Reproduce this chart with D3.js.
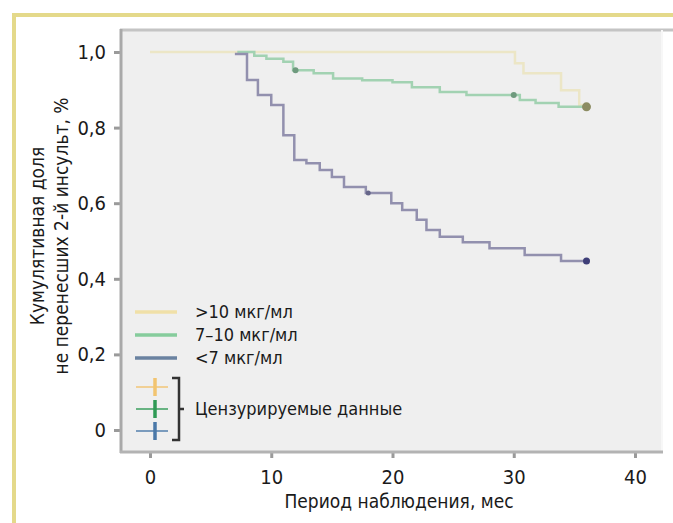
<!DOCTYPE html>
<html>
<head>
<meta charset="utf-8">
<script src="https://cdn.jsdelivr.net/npm/d3@7"></script>
<style>
  body { margin: 0; background: #fff; }
  text { font-family: "DejaVu Sans Condensed", "Liberation Sans Narrow", sans-serif; font-stretch: condensed; fill: #1a1a1a; }
</style>
</head>
<body>
<svg id="svg1" width="673" height="523"></svg>
<script>
// ---- data (months, cumulative share) ----
var xTicks = [0, 10, 20, 30, 40];
var yTicks = [0, 0.2, 0.4, 0.6, 0.8, 1.0];
var yTickLabels = ["0", "0,2", "0,4", "0,6", "0,8", "1,0"];

var highT = [0, 30.1, 30.8, 33.9, 35.4, 36];
var highS = [1.0, 0.97, 0.944, 0.899, 0.86, 0.86];

var midT = [7.2, 8.6, 9.6, 11.0, 11.8, 13.5, 15.1, 17.5, 20.0, 21.6, 23.9, 26.1, 30.5, 31.8, 33.7, 36];
var midS = [1.0, 0.99, 0.982, 0.974, 0.952, 0.944, 0.93, 0.925, 0.92, 0.907, 0.894, 0.886, 0.873, 0.865, 0.855, 0.855];
var midCensor = [12.0, 30.0, 36];

var lowT = [7.0, 8.0, 8.9, 10.0, 11.0, 11.9, 12.9, 14.0, 15.0, 16.0, 17.8, 19.9, 20.8, 22.0, 22.8, 23.9, 25.8, 28.0, 30.9, 33.9, 36];
var lowS = [0.995, 0.926, 0.886, 0.86, 0.78, 0.714, 0.706, 0.688, 0.669, 0.643, 0.627, 0.60, 0.582, 0.556, 0.529, 0.511, 0.497, 0.481, 0.463, 0.447, 0.447];
var lowCensor = [18.0, 36];

var legendNames = [">10 мкг/мл", "7–10 мкг/мл", "<7 мкг/мл"];
var legendCols = ["#f0e0a8", "#86cc9c", "#6a82a0"];
var censorCols = ["#f2c470", "#2f9a55", "#4a78a8"];

var svg = d3.select("#svg1");

// yellow frame
svg.append("rect").attr("x", 12).attr("y", 13).attr("width", 661).attr("height", 4).attr("fill", "#e4d98a");
svg.append("rect").attr("x", 12).attr("y", 13).attr("width", 4).attr("height", 510).attr("fill", "#e4d98a");

var x = d3.scaleLinear().domain([0, 40]).range([150, 635]);
var y = d3.scaleLinear().domain([0, 1]).range([430, 52]);

// plot panel
svg.append("rect").attr("x", 120).attr("y", 29).attr("width", 543).attr("height", 423).attr("fill", "#efefef");
svg.append("line").attr("x1", 120).attr("x2", 673).attr("y1", 30).attr("y2", 30)
   .attr("stroke", "#c4c4c4").attr("stroke-width", 3);
svg.append("line").attr("x1", 662).attr("x2", 662).attr("y1", 30).attr("y2", 452)
   .attr("stroke", "#f7f7f7").attr("stroke-width", 2);

// axes
var yAxis = d3.axisLeft(y).tickValues(yTicks).tickSize(7).tickPadding(8)
   .tickFormat(function (d, i) { return yTickLabels[i]; });
var gy = svg.append("g").attr("transform", "translate(121,0)").call(yAxis);
var xAxis = d3.axisBottom(x).tickValues(xTicks).tickSize(6).tickPadding(12);
var gx = svg.append("g").attr("transform", "translate(0,452)").call(xAxis);

[gy, gx].forEach(function (g) {
  g.select(".domain").remove();
  g.selectAll(".tick line").attr("stroke", "#9a9a9a").attr("stroke-width", 3);
  g.selectAll(".tick text").style("font-size", "20px").attr("fill", "#1a1a1a")
   .style("font-family", "'DejaVu Sans Condensed', sans-serif");
});
svg.append("line").attr("x1", 121).attr("x2", 121).attr("y1", 29).attr("y2", 453)
   .attr("stroke", "#a9a9a9").attr("stroke-width", 3);
svg.append("line").attr("x1", 120).attr("x2", 663).attr("y1", 452).attr("y2", 452)
   .attr("stroke", "#b3b3b3").attr("stroke-width", 3);

// axis titles
svg.append("text").attr("x", 399).attr("y", 508).attr("text-anchor", "middle")
   .style("font-size", "19px").text("Период наблюдения, мес");
var yt = svg.append("text").attr("transform", "translate(44,236) rotate(-90)")
   .attr("text-anchor", "middle").style("font-size", "19px");
yt.append("tspan").attr("x", 0).attr("dy", 0).text("Кумулятивная доля");
yt.append("tspan").attr("x", 0).attr("dy", 24).text("не перенесших 2-й инсульт, %");

// curves
var line = d3.line().curve(d3.curveStepAfter)
   .x(function (d) { return x(d[0]); }).y(function (d) { return y(d[1]); });
function zip(t, s) { return t.map(function (v, i) { return [v, s[i]]; }); }
function valueAt(t, s, m) {
  var v = s[0];
  for (var i = 0; i < t.length; i++) { if (t[i] <= m) v = s[i]; }
  return v;
}

svg.append("path").attr("d", line(zip(highT, highS))).attr("fill", "none")
   .attr("stroke", "#ece6c6").attr("stroke-width", 2.5);
svg.append("path").attr("d", line(zip(midT, midS))).attr("fill", "none")
   .attr("stroke", "#a2d2b2").attr("stroke-width", 2.5);
svg.append("path").attr("d", line(zip(lowT, lowS))).attr("fill", "none")
   .attr("stroke", "#9290ae").attr("stroke-width", 2.5);

svg.selectAll(".cmid").data(midCensor).enter().append("circle")
   .attr("cx", function (d) { return x(d); })
   .attr("cy", function (d) { return y(valueAt(midT, midS, d)); })
   .attr("r", function (d, i) { return i == midCensor.length - 1 ? 4.5 : 3; })
   .attr("fill", function (d, i) { return i == midCensor.length - 1 ? "#8c8c62" : "#6f9a7e"; });
svg.selectAll(".clow").data(lowCensor).enter().append("circle")
   .attr("cx", function (d) { return x(d); })
   .attr("cy", function (d) { return y(valueAt(lowT, lowS, d)); })
   .attr("r", function (d, i) { return i == lowCensor.length - 1 ? 3.5 : 2.5; })
   .attr("fill", function (d, i) { return i == lowCensor.length - 1 ? "#3e3e78" : "#66668a"; });

// legend
var leg = svg.append("g");
legendNames.forEach(function (name, i) {
  var ly = 312 + i * 23;
  leg.append("line").attr("x1", 135).attr("x2", 177).attr("y1", ly).attr("y2", ly)
     .attr("stroke", legendCols[i]).attr("stroke-width", 3.5);
  leg.append("text").attr("x", 195).attr("y", ly + 6).style("font-size", "18px").text(name);
});
censorCols.forEach(function (c, i) {
  var cy = 387 + i * 22;
  leg.append("line").attr("x1", 136).attr("x2", 168).attr("y1", cy).attr("y2", cy)
     .attr("stroke", c).attr("stroke-width", 2).attr("opacity", 0.7);
  leg.append("line").attr("x1", 155).attr("x2", 155).attr("y1", cy - 9).attr("y2", cy + 9)
     .attr("stroke", c).attr("stroke-width", 3.5);
});
leg.append("path").attr("d", "M172,378 H179 V440 H172 M179,409 H184")
   .attr("fill", "none").attr("stroke", "#333").attr("stroke-width", 2.5);
leg.append("text").attr("x", 195).attr("y", 415).style("font-size", "18px").text("Цензурируемые данные");
</script>
</body>
</html>
